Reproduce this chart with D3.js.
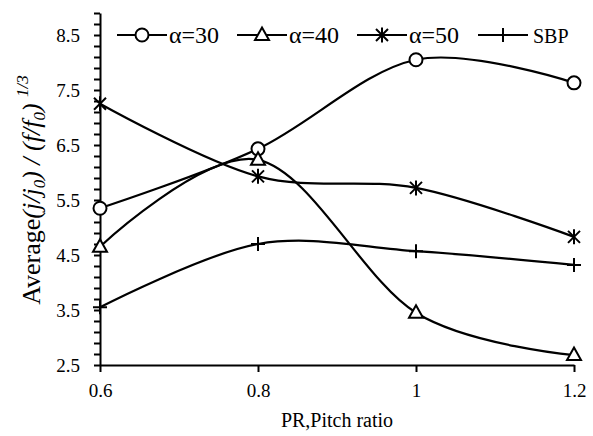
<!DOCTYPE html>
<html>
<head>
<meta charset="utf-8">
<script src="https://cdn.jsdelivr.net/npm/d3@7"></script>
<style>
  html, body { margin: 0; padding: 0; background: #fff; }
  svg text { font-family: "Liberation Serif", "Times New Roman", Times, serif !important; }
</style>
</head>
<body>
<svg id="chart" width="593" height="436"></svg>
<script>
// ---- data ----
const pitchRatio = [0.6, 0.8, 1.0, 1.2];
const alpha30 = [5.35, 6.43, 8.05, 7.63];
const alpha40 = [4.65, 6.23, 3.45, 2.68];
const alpha50 = [7.25, 5.93, 5.72, 4.83];
const sbp     = [3.55, 4.70, 4.57, 4.32];
const seriesNames = ["α=30", "α=40", "α=50", "SBP"];
const seriesMarkers = ["circle", "triangle", "asterisk", "plus"];
const xTickValues = [0.6, 0.8, 1.0, 1.2];
const xTickLabels = ["0.6", "0.8", "1", "1.2"];
const yLabelValues = [2.5, 3.5, 4.5, 5.5, 6.5, 7.5, 8.5];

const seriesValues = [alpha30, alpha40, alpha50, sbp];

const svg = d3.select("#chart");
const x = d3.scaleLinear().domain([0.6, 1.2]).range([100, 574]);
const y = d3.scaleLinear().domain([2.5, 8.9]).range([365, 13]);

// axes
const yTicks = d3.range(0, 33).map(i => +(2.5 + i * 0.2).toFixed(1));
const yAxis = d3.axisLeft(y)
  .tickValues(yTicks)
  .tickSize(6)
  .tickSizeOuter(0)
  .tickPadding(14)
  .tickFormat(v => yLabelValues.some(l => Math.abs(l - v) < 1e-6) ? d3.format(".1f")(v) : "");
const gy = svg.append("g").attr("transform", "translate(100,0)").call(yAxis);

const xAxis = d3.axisBottom(x)
  .tickValues(xTickValues)
  .tickSize(7)
  .tickSizeOuter(0)
  .tickPadding(12)
  .tickFormat((v, i) => xTickLabels[i]);
const gx = svg.append("g").attr("transform", "translate(0,365)").call(xAxis);

[gx, gy].forEach(g => {
  g.attr("font-family", null);
  g.select(".domain").attr("stroke", "#000").attr("stroke-width", 2);
  g.selectAll(".tick line").attr("stroke", "#000").attr("stroke-width", 2);
  g.selectAll(".tick text").attr("fill", "#000").style("font-size", "19px");
});

// lines
const line = d3.line()
  .x((d, i) => x(pitchRatio[i]))
  .y(d => y(d))
  .curve(d3.curveCatmullRom.alpha(0));

seriesValues.forEach(vals => {
  svg.append("path")
    .datum(vals)
    .attr("d", line)
    .attr("fill", "none")
    .attr("stroke", "#000")
    .attr("stroke-width", 2.2);
});

// markers
function drawMarker(g, type, cx, cy) {
  const s = 6;
  if (type === "circle") {
    g.append("circle").attr("cx", cx).attr("cy", cy).attr("r", 6.5)
      .attr("fill", "#fff").attr("stroke", "#000").attr("stroke-width", 2);
  } else if (type === "triangle") {
    g.append("path")
      .attr("d", `M${cx},${cy - 7.5}L${cx + 7},${cy + 5}L${cx - 7},${cy + 5}Z`)
      .attr("fill", "#fff").attr("stroke", "#000").attr("stroke-width", 2);
  } else if (type === "asterisk") {
    const d = `M${cx - s},${cy - s}L${cx + s},${cy + s}M${cx - s},${cy + s}L${cx + s},${cy - s}M${cx},${cy - 7.5}L${cx},${cy + 7.5}`;
    g.append("path").attr("d", d).attr("stroke", "#000").attr("stroke-width", 2).attr("fill", "none");
  } else if (type === "plus") {
    const d = `M${cx},${cy - 7}L${cx},${cy + 7}M${cx - 7},${cy}L${cx + 7},${cy}`;
    g.append("path").attr("d", d).attr("stroke", "#000").attr("stroke-width", 2).attr("fill", "none");
  }
}

const gm = svg.append("g");
seriesValues.forEach((vals, si) => {
  vals.forEach((v, i) => drawMarker(gm, seriesMarkers[si], x(pitchRatio[i]), y(v)));
});

// legend
const legendX = [117, 237, 357, 478];
const legendY = 35;
const lg = svg.append("g");
seriesNames.forEach((name, i) => {
  const lx = legendX[i];
  lg.append("line").attr("x1", lx).attr("x2", lx + 50).attr("y1", legendY).attr("y2", legendY)
    .attr("stroke", "#000").attr("stroke-width", 2.2);
  drawMarker(lg, seriesMarkers[i], lx + 25, legendY);
  lg.append("text").attr("x", lx + (i === 3 ? 55 : 52)).attr("y", legendY + 7.5)
    .style("font-size", i === 3 ? "20px" : "24px").attr("fill", "#000").text(name);
});

// x title
svg.append("text").attr("x", 337).attr("y", 427).attr("text-anchor", "middle")
  .style("font-size", "20px").attr("fill", "#000").text("PR,Pitch ratio");

// y title
const yt = svg.append("text")
  .attr("transform", "translate(40,190) rotate(-90)")
  .attr("text-anchor", "middle")
  .style("font-size", "26px").attr("fill", "#000");
yt.append("tspan").text("Average");
yt.append("tspan").style("font-style", "italic").text("(j/j");
yt.append("tspan").style("font-style", "italic").style("font-size", "17px").attr("dy", 5).text("0");
yt.append("tspan").attr("dy", -5).style("font-style", "italic").text(") / (f/f");
yt.append("tspan").style("font-style", "italic").style("font-size", "17px").attr("dy", 5).text("0");
yt.append("tspan").attr("dy", -5).style("font-style", "italic").text(") ");
yt.append("tspan").style("font-style", "italic").style("font-size", "17px").attr("dy", -12).text("1/3");
</script>
</body>
</html>
